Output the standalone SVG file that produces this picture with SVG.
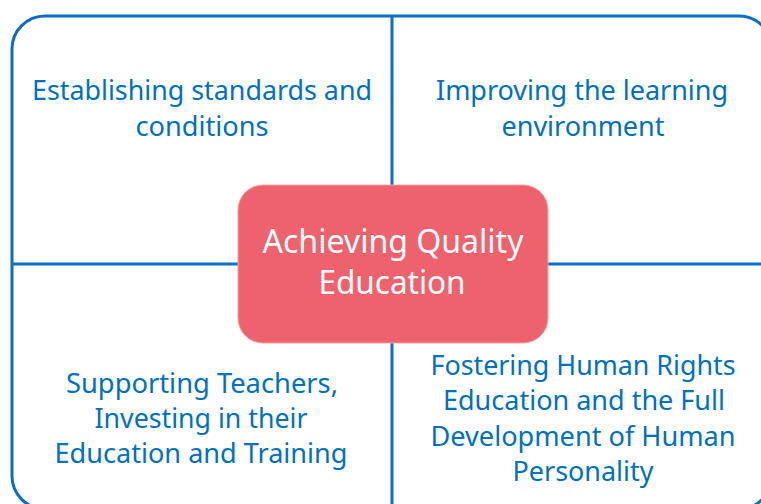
<svg xmlns="http://www.w3.org/2000/svg" width="761" height="504" viewBox="0 0 761 504">
<style>
.q{font-family:"Noto Sans","Open Sans","Liberation Sans",sans-serif;font-size:27.5px;fill:#0070C0;text-anchor:middle}
.c{font-family:"Noto Sans","Open Sans","Liberation Sans",sans-serif;font-size:32px;fill:#FFFFFF;text-anchor:middle}
.ln{stroke:#0A6FC4;stroke-width:3;fill:none}
</style>
<rect width="761" height="504" fill="#FFFFFF"/>
<g id="connectors">
<rect class="ln" x="12" y="16" width="760" height="493" rx="33" ry="33"/>
<line class="ln" x1="392" y1="16" x2="392" y2="509"/>
<line class="ln" x1="12" y1="264" x2="772" y2="264"/>
</g>
<g id="q1">
<text class="q" x="202" y="100" textLength="340" lengthAdjust="spacingAndGlyphs">Establishing standards and</text>
<text class="q" x="202" y="136" textLength="133" lengthAdjust="spacingAndGlyphs">conditions</text>
</g>
<g id="q2">
<text class="q" x="582" y="100" textLength="292" lengthAdjust="spacingAndGlyphs">Improving the learning</text>
<text class="q" x="583" y="136" textLength="163" lengthAdjust="spacingAndGlyphs">environment</text>
</g>
<g id="q3">
<text class="q" x="202" y="393" textLength="272" lengthAdjust="spacingAndGlyphs">Supporting Teachers,</text>
<text class="q" x="201" y="428" textLength="213" lengthAdjust="spacingAndGlyphs">Investing in their</text>
<text class="q" x="201" y="463" textLength="293" lengthAdjust="spacingAndGlyphs">Education and Training</text>
</g>
<g id="q4">
<text class="q" x="583" y="375" textLength="305" lengthAdjust="spacingAndGlyphs">Fostering Human Rights</text>
<text class="q" x="584" y="410" textLength="282" lengthAdjust="spacingAndGlyphs">Education and the Full</text>
<text class="q" x="583" y="446" textLength="305" lengthAdjust="spacingAndGlyphs">Development of Human</text>
<text class="q" x="583" y="481" textLength="141" lengthAdjust="spacingAndGlyphs">Personality</text>
</g>
<g id="center">
<rect x="238" y="185" width="310" height="158" rx="25" ry="25" fill="#EE626D" stroke="#F6A0A6" stroke-width="1"/>
<text class="c" x="393" y="253" textLength="261" lengthAdjust="spacingAndGlyphs">Achieving Quality</text>
<text class="c" x="392" y="294" textLength="147" lengthAdjust="spacingAndGlyphs">Education</text>
</g>
</svg>
